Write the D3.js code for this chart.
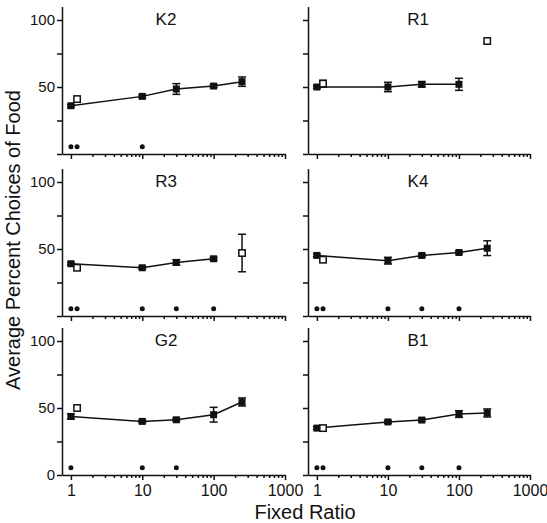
<!DOCTYPE html>
<html>
<head>
<meta charset="utf-8">
<script src="https://cdn.jsdelivr.net/npm/d3@7"></script>
<style>
  body { margin: 0; background: #fff; }
  svg { font-family: "Liberation Sans", Arial, Helvetica, sans-serif; }
  .axis path, .axis line { stroke: #111; stroke-width: 1.5; }
  .axis text { fill: #111; }
</style>
</head>
<body>
<div id="container"></div>
<script>
// subjects, in panel order (row by row, left then right)
const subjects = ["K2", "R1", "R3", "K4", "G2", "B1"];
const ratios = [1, 10, 30, 100, 250];

// filled squares: mean percent choices of food at each ratio (null = not run)
const meanChoice = [
  [36, 43, 48.5, 50.7, 54],
  [50, 50, 52, 52, null],
  [39, 36, 40, 42.7, null],
  [45.2, 41.3, 45.2, 47.4, 50.6],
  [43.7, 40, 41.2, 45, 54.5],
  [35, 39.6, 41, 45.5, 46.3]
];
const meanErr = [
  [1, 1, 4, 1, 3.5],
  [1, 3.5, 2, 4.5, null],
  [1, 1, 2, 1, null],
  [1, 2.5, 1, 1, 5.5],
  [2, 1, 1, 5.5, 3],
  [1, 1, 1, 2.5, 3]
];

// open squares: redeterminations
const openRatio = [[1.22], [1.22, 250], [1.22, 250], [1.22], [1.22], [1.22]];
const openChoice = [[41], [52.5, 84.3], [36, 47], [42], [50], [35]];
const openErr = [[0], [2.5, 0], [0, 14], [0], [0], [0]];

// significance markers along the bottom
const sigRatios = [
  [1, 1.22, 10],
  [],
  [1, 1.22, 10, 30, 100],
  [1, 1.22, 10, 30, 100],
  [1, 10, 30],
  [1, 1.22, 10, 30, 100]
];
const sigLevel = 5.5;

const xTickLabels = [1, 10, 100, 1000];
const xMinorTicks = [2,3,4,5,6,7,8,9,20,30,40,50,60,70,80,90,200,300,400,500,600,700,800,900];
const yTicks = [0, 25, 50, 75, 100];
const yTickLabels = [0, 50, 100];

const width = 547;
const height = 523;
const colLeft = [62, 308];
const colRight = [285, 530];
const rowBase = [154, 316, 475];
const unit = 1.34;

const svg = d3.select("#container").append("svg")
  .attr("width", width)
  .attr("height", height);

subjects.forEach((name, i) => {
  const col = i % 2;
  const row = Math.floor(i / 2);
  const x = d3.scaleLog().domain([0.75, 1000]).range([colLeft[col], colRight[col]]);
  const y = d3.scaleLinear().domain([0, 110]).range([rowBase[row], rowBase[row] - 110 * unit]);
  const g = svg.append("g");

  const showX = row === 2;
  const showY = col === 0;

  // x axis, minor ticks first
  g.append("g").attr("class", "axis")
    .attr("transform", `translate(0,${rowBase[row]})`)
    .call(d3.axisBottom(x).tickValues(xMinorTicks).tickSize(3).tickSizeOuter(0).tickFormat(""))
    .call(a => a.select(".domain").remove());
  g.append("g").attr("class", "axis")
    .attr("transform", `translate(0,${rowBase[row]})`)
    .call(d3.axisBottom(x).tickValues(xTickLabels).tickSize(5).tickSizeOuter(0).tickPadding(5)
      .tickFormat(d => showX ? d : ""))
    .attr("font-size", 16)
    .attr("font-family", null);

  g.append("g").attr("class", "axis")
    .attr("transform", `translate(${colLeft[col]},0)`)
    .call(d3.axisLeft(y).tickValues(yTicks).tickSize(5).tickSizeOuter(0).tickPadding(2)
      .tickFormat(d => {
        if (!showY) return "";
        if (d === 0 && row !== 2) return "";
        return yTickLabels.includes(d) ? d : "";
      }))
    .attr("font-size", 15)
    .attr("font-family", null);

  // title
  g.append("text")
    .attr("x", col === 0 ? 166 : 418)
    .attr("y", y(100) + 5)
    .attr("text-anchor", "middle")
    .attr("font-size", 17)
    .attr("fill", "#111")
    .text(name);

  const pts = ratios.map((r, j) => ({ r, v: meanChoice[i][j], e: meanErr[i][j] }))
    .filter(d => d.v != null);

  g.append("path")
    .datum(pts)
    .attr("fill", "none")
    .attr("stroke", "#111")
    .attr("stroke-width", 1.5)
    .attr("d", d3.line().x(d => x(d.r)).y(d => y(d.v)));

  const opens = openRatio[i].map((r, j) => ({ r, v: openChoice[i][j], e: openErr[i][j] }));

  // error bars
  const bars = pts.concat(opens).filter(d => d.e > 0);
  bars.forEach(d => {
    const eg = g.append("g").attr("stroke", "#111").attr("stroke-width", 1.5);
    eg.append("line").attr("x1", x(d.r)).attr("x2", x(d.r))
      .attr("y1", y(d.v - d.e)).attr("y2", y(d.v + d.e));
    [d.v - d.e, d.v + d.e].forEach(v => {
      eg.append("line").attr("x1", x(d.r) - 4).attr("x2", x(d.r) + 4)
        .attr("y1", y(v)).attr("y2", y(v));
    });
  });

  g.selectAll(".filled").data(pts).enter().append("rect")
    .attr("x", d => x(d.r) - 3.5)
    .attr("y", d => y(d.v) - 3.5)
    .attr("width", 7)
    .attr("height", 7)
    .attr("fill", "#111");

  g.selectAll(".open").data(opens).enter().append("rect")
    .attr("x", d => x(d.r) - 3.2)
    .attr("y", d => y(d.v) - 3.2)
    .attr("width", 6.4)
    .attr("height", 6.4)
    .attr("fill", "#fff")
    .attr("stroke", "#111")
    .attr("stroke-width", 1.5);

  g.selectAll(".sig").data(sigRatios[i]).enter().append("circle")
    .attr("cx", d => x(d))
    .attr("cy", y(sigLevel))
    .attr("r", 2.5)
    .attr("fill", "#111");
});

svg.append("text")
  .attr("transform", "translate(19.5,240) rotate(-90)")
  .attr("text-anchor", "middle")
  .attr("font-size", 20)
  .attr("fill", "#111")
  .text("Average Percent Choices of Food");

svg.append("text")
  .attr("x", 305)
  .attr("y", 519)
  .attr("text-anchor", "middle")
  .attr("font-size", 20)
  .attr("fill", "#111")
  .text("Fixed Ratio");
</script>
</body>
</html>
